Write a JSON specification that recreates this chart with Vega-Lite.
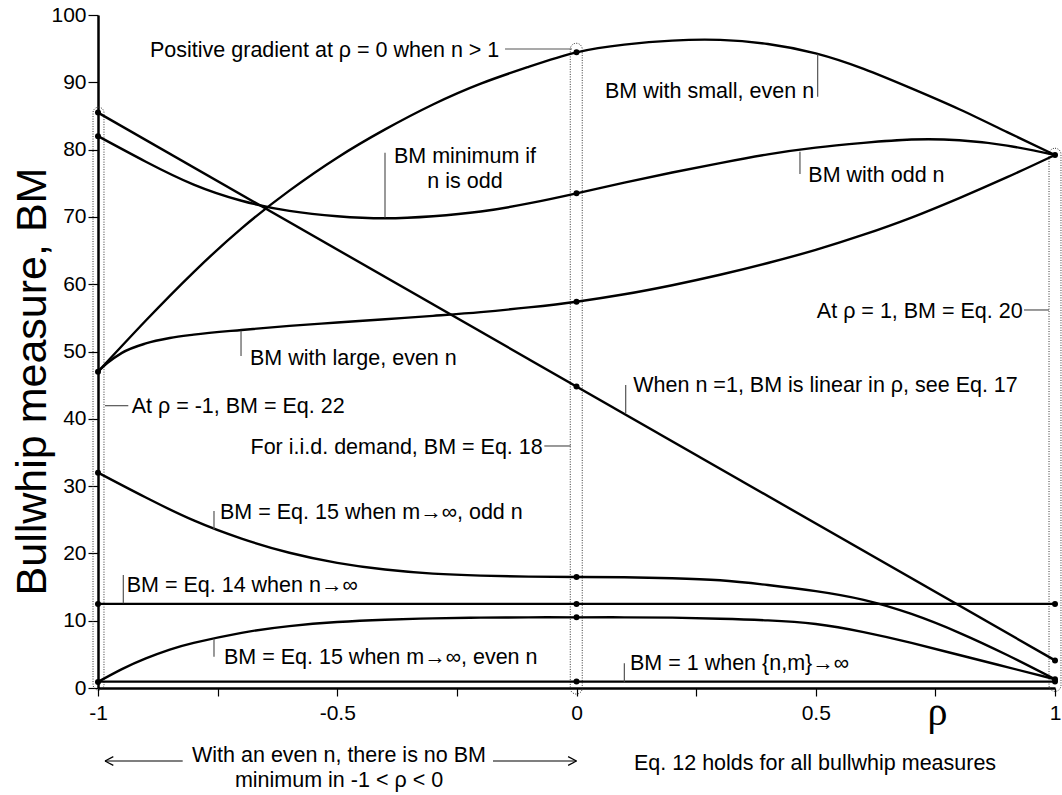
{
  "$schema": "https://vega.github.io/schema/vega-lite/v6.json",
  "width": 957,
  "height": 673,
  "autosize": {"type": "none"},
  "padding": {"left": 98, "top": 15, "right": 7, "bottom": 107},
  "background": "white",
  "config": {"view": {"stroke": null}, "font": "Liberation Sans"},
  "datasets": {
    "curves": [
      {"s": "n1", "x": -1, "y": 85.5}, {"s": "n1", "x": 1, "y": 4.1},
      {"s": "odd", "x": -1, "y": 82.0}, {"s": "odd", "x": -0.9, "y": 78.2}, {"s": "odd", "x": -0.8, "y": 74.8}, {"s": "odd", "x": -0.7, "y": 72.4}, {"s": "odd", "x": -0.6, "y": 70.9}, {"s": "odd", "x": -0.5, "y": 70.1}, {"s": "odd", "x": -0.4, "y": 69.8}, {"s": "odd", "x": -0.3, "y": 70.1}, {"s": "odd", "x": -0.2, "y": 70.8}, {"s": "odd", "x": -0.1, "y": 72.0}, {"s": "odd", "x": 0, "y": 73.5}, {"s": "odd", "x": 0.1, "y": 75.1}, {"s": "odd", "x": 0.2, "y": 76.6}, {"s": "odd", "x": 0.3, "y": 78.0}, {"s": "odd", "x": 0.4, "y": 79.3}, {"s": "odd", "x": 0.5, "y": 80.3}, {"s": "odd", "x": 0.6, "y": 81.0}, {"s": "odd", "x": 0.7, "y": 81.5}, {"s": "odd", "x": 0.8, "y": 81.4}, {"s": "odd", "x": 0.9, "y": 80.6}, {"s": "odd", "x": 1, "y": 79.2},
      {"s": "smalleven", "x": -1, "y": 47.0}, {"s": "smalleven", "x": -0.9, "y": 54.6}, {"s": "smalleven", "x": -0.8, "y": 61.8}, {"s": "smalleven", "x": -0.7, "y": 68.3}, {"s": "smalleven", "x": -0.6, "y": 73.9}, {"s": "smalleven", "x": -0.5, "y": 78.8}, {"s": "smalleven", "x": -0.4, "y": 83.0}, {"s": "smalleven", "x": -0.3, "y": 86.7}, {"s": "smalleven", "x": -0.2, "y": 89.8}, {"s": "smalleven", "x": -0.1, "y": 92.3}, {"s": "smalleven", "x": 0, "y": 94.45}, {"s": "smalleven", "x": 0.1, "y": 95.6}, {"s": "smalleven", "x": 0.2, "y": 96.2}, {"s": "smalleven", "x": 0.3, "y": 96.3}, {"s": "smalleven", "x": 0.4, "y": 95.7}, {"s": "smalleven", "x": 0.5, "y": 94.3}, {"s": "smalleven", "x": 0.6, "y": 92.0}, {"s": "smalleven", "x": 0.7, "y": 89.1}, {"s": "smalleven", "x": 0.8, "y": 86.0}, {"s": "smalleven", "x": 0.9, "y": 82.6}, {"s": "smalleven", "x": 1, "y": 79.2},
      {"s": "largeeven", "x": -1, "y": 47.0}, {"s": "largeeven", "x": -0.98, "y": 48.3}, {"s": "largeeven", "x": -0.95, "y": 49.8}, {"s": "largeeven", "x": -0.9, "y": 51.2}, {"s": "largeeven", "x": -0.85, "y": 52.0}, {"s": "largeeven", "x": -0.8, "y": 52.5}, {"s": "largeeven", "x": -0.7, "y": 53.2}, {"s": "largeeven", "x": -0.6, "y": 53.8}, {"s": "largeeven", "x": -0.5, "y": 54.3}, {"s": "largeeven", "x": -0.4, "y": 54.8}, {"s": "largeeven", "x": -0.3, "y": 55.3}, {"s": "largeeven", "x": -0.2, "y": 55.85}, {"s": "largeeven", "x": -0.1, "y": 56.55}, {"s": "largeeven", "x": 0, "y": 57.4}, {"s": "largeeven", "x": 0.1, "y": 58.5}, {"s": "largeeven", "x": 0.2, "y": 59.85}, {"s": "largeeven", "x": 0.3, "y": 61.4}, {"s": "largeeven", "x": 0.4, "y": 63.15}, {"s": "largeeven", "x": 0.5, "y": 65.1}, {"s": "largeeven", "x": 0.6, "y": 67.35}, {"s": "largeeven", "x": 0.7, "y": 69.9}, {"s": "largeeven", "x": 0.8, "y": 72.8}, {"s": "largeeven", "x": 0.9, "y": 75.9}, {"s": "largeeven", "x": 1, "y": 79.2},
      {"s": "eq15odd", "x": -1, "y": 32.0}, {"s": "eq15odd", "x": -0.9, "y": 28.3}, {"s": "eq15odd", "x": -0.8, "y": 24.9}, {"s": "eq15odd", "x": -0.7, "y": 22.2}, {"s": "eq15odd", "x": -0.6, "y": 20.1}, {"s": "eq15odd", "x": -0.5, "y": 18.6}, {"s": "eq15odd", "x": -0.4, "y": 17.6}, {"s": "eq15odd", "x": -0.3, "y": 17.0}, {"s": "eq15odd", "x": -0.2, "y": 16.7}, {"s": "eq15odd", "x": -0.1, "y": 16.55}, {"s": "eq15odd", "x": 0, "y": 16.5}, {"s": "eq15odd", "x": 0.1, "y": 16.45}, {"s": "eq15odd", "x": 0.2, "y": 16.3}, {"s": "eq15odd", "x": 0.3, "y": 16.0}, {"s": "eq15odd", "x": 0.4, "y": 15.3}, {"s": "eq15odd", "x": 0.5, "y": 14.4}, {"s": "eq15odd", "x": 0.6, "y": 13.1}, {"s": "eq15odd", "x": 0.7, "y": 11.0}, {"s": "eq15odd", "x": 0.8, "y": 8.2}, {"s": "eq15odd", "x": 0.9, "y": 4.9}, {"s": "eq15odd", "x": 1, "y": 1.3},
      {"s": "eq15even", "x": -1, "y": 0.9}, {"s": "eq15even", "x": -0.95, "y": 2.8}, {"s": "eq15even", "x": -0.9, "y": 4.4}, {"s": "eq15even", "x": -0.85, "y": 5.7}, {"s": "eq15even", "x": -0.8, "y": 6.7}, {"s": "eq15even", "x": -0.7, "y": 8.2}, {"s": "eq15even", "x": -0.6, "y": 9.2}, {"s": "eq15even", "x": -0.5, "y": 9.8}, {"s": "eq15even", "x": -0.4, "y": 10.15}, {"s": "eq15even", "x": -0.3, "y": 10.35}, {"s": "eq15even", "x": -0.2, "y": 10.45}, {"s": "eq15even", "x": -0.1, "y": 10.5}, {"s": "eq15even", "x": 0, "y": 10.5}, {"s": "eq15even", "x": 0.1, "y": 10.5}, {"s": "eq15even", "x": 0.2, "y": 10.45}, {"s": "eq15even", "x": 0.3, "y": 10.3}, {"s": "eq15even", "x": 0.4, "y": 10.05}, {"s": "eq15even", "x": 0.5, "y": 9.5}, {"s": "eq15even", "x": 0.6, "y": 8.3}, {"s": "eq15even", "x": 0.7, "y": 6.7}, {"s": "eq15even", "x": 0.8, "y": 4.9}, {"s": "eq15even", "x": 0.9, "y": 3.1}, {"s": "eq15even", "x": 1, "y": 1.3},
      {"s": "eq14", "x": -1, "y": 12.5}, {"s": "eq14", "x": 1, "y": 12.5},
      {"s": "bm1", "x": -1, "y": 0.95}, {"s": "bm1", "x": 1, "y": 0.95}
    ],
    "dots": [
      {"x": -1, "y": 85.5}, {"x": -1, "y": 82.0}, {"x": -1, "y": 47.0}, {"x": -1, "y": 32.0}, {"x": -1, "y": 12.5}, {"x": -1, "y": 0.9},
      {"x": 0, "y": 94.45}, {"x": 0, "y": 73.5}, {"x": 0, "y": 57.4}, {"x": 0, "y": 44.8}, {"x": 0, "y": 16.5}, {"x": 0, "y": 12.5}, {"x": 0, "y": 10.5}, {"x": 0, "y": 0.95},
      {"x": 1, "y": 79.2}, {"x": 1, "y": 12.5}, {"x": 1, "y": 4.1}, {"x": 1, "y": 1.3}, {"x": 1, "y": 0.95}
    ],
    "boxes": [
      {"x": -1.0104, "x2": -0.9875, "y": -0.3, "y2": 86.3},
      {"x": -0.013, "x2": 0.012, "y": -0.9, "y2": 95.8},
      {"x": 0.9875, "x2": 1.0125, "y": -0.5, "y2": 80.2}
    ],
    "leaders": [
      {"x": -0.1494, "x2": -0.0094, "y": 94.95, "y2": 94.95},
      {"x": 0.504, "x2": 0.504, "y": 94.15, "y2": 87.86},
      {"x": -0.4002, "x2": -0.4002, "y": 79.54, "y2": 69.9},
      {"x": 0.467, "x2": 0.467, "y": 79.69, "y2": 76.37},
      {"x": 0.9352, "x2": 0.9875, "y": 56.17, "y2": 56.17},
      {"x": -0.7011, "x2": -0.7011, "y": 53.1, "y2": 49.33},
      {"x": -0.9854, "x2": -0.9367, "y": 41.95, "y2": 41.95},
      {"x": 0.1028, "x2": 0.1028, "y": 45.02, "y2": 40.82},
      {"x": -0.0673, "x2": -0.0121, "y": 35.96, "y2": 35.96},
      {"x": -0.7576, "x2": -0.7576, "y": 26.3, "y2": 23.6},
      {"x": -0.9471, "x2": -0.9471, "y": 16.79, "y2": 12.58},
      {"x": -0.7576, "x2": -0.7576, "y": 7.3, "y2": 4.66},
      {"x": 0.1, "x2": 0.1, "y": 3.67, "y2": 0.94}
    ],
    "arrows": [
      {"x": -0.9854, "x2": -0.823, "y": -10.85, "y2": -10.85},
      {"x": -0.9854, "x2": -0.968, "y": -10.85, "y2": -10.2},
      {"x": -0.9854, "x2": -0.968, "y": -10.85, "y2": -11.5},
      {"x": -0.1745, "x2": 0.0, "y": -10.85, "y2": -10.85},
      {"x": 0.0, "x2": -0.0175, "y": -10.85, "y2": -10.2},
      {"x": 0.0, "x2": -0.0175, "y": -10.85, "y2": -11.5}
    ],
    "labelsLeft": [
      {"x": -0.8913, "y": 93.76, "t": "Positive gradient at ρ = 0 when n > 1"},
      {"x": 0.0596, "y": 87.7, "t": "BM with small, even n"},
      {"x": 0.4844, "y": 75.23, "t": "BM with odd n"},
      {"x": -0.6823, "y": 47.99, "t": "BM with large, even n"},
      {"x": -0.9296, "y": 40.82, "t": "At ρ = -1, BM = Eq. 22"},
      {"x": 0.1187, "y": 44.03, "t": "When n =1, BM is linear in ρ, see Eq. 17"},
      {"x": -0.745, "y": 25.11, "t": "BM = Eq. 15 when m→∞, odd n"},
      {"x": -0.94, "y": 14.31, "t": "BM = Eq. 14 when n→∞"},
      {"x": -0.7367, "y": 3.57, "t": "BM = Eq. 15 when m→∞, even n"},
      {"x": 0.1118, "y": 2.67, "t": "BM = 1 when {n,m}→∞"},
      {"x": 0.1202, "y": -12.18, "t": "Eq. 12 holds for all bullwhip measures"}
    ],
    "labelsRight": [
      {"x": 0.9325, "y": 54.93, "t": "At ρ = 1, BM = Eq. 20"},
      {"x": -0.0706, "y": 34.72, "t": "For i.i.d. demand, BM = Eq. 18"}
    ],
    "labelsCenter": [
      {"x": -0.233, "y": 77.96, "t": "BM minimum if"},
      {"x": -0.233, "y": 74.34, "t": "n is odd"},
      {"x": -0.4963, "y": -10.95, "t": "With an even n, there is no BM"},
      {"x": -0.4963, "y": -14.67, "t": "minimum in -1 < ρ < 0"}
    ]
  },
  "encoding": {
    "x": {
      "field": "x", "type": "quantitative",
      "scale": {"domain": [-1, 1], "nice": false, "zero": false},
      "axis": {
        "values": [-1, -0.75, -0.5, -0.25, 0, 0.25, 0.5, 0.75, 1],
        "labelExpr": "abs(datum.value * 2 - round(datum.value * 2)) < 0.001 ? '' + datum.value : ''",
        "labelFlush": false, "labelOverlap": false, "labelBound": false,
        "labelFont": "Liberation Sans", "labelFontSize": 21, "labelColor": "black", "labelPadding": 6,
        "domainColor": "black", "domainWidth": 2.5,
        "tickColor": "black", "tickSize": 8, "tickWidth": 1.2,
        "grid": false,
        "title": "ρ", "titleFont": "Liberation Serif", "titleFontSize": 40, "titleFontWeight": "normal", "titleColor": "black",
        "titleX": 839, "titleY": 36, "titleAlign": "center", "titleBaseline": "alphabetic"
      }
    },
    "y": {
      "field": "y", "type": "quantitative",
      "scale": {"domain": [0, 100], "nice": false},
      "axis": {
        "values": [0, 10, 20, 30, 40, 50, 60, 70, 80, 90, 100],
        "labelFont": "Liberation Sans", "labelFontSize": 21, "labelColor": "black", "labelPadding": 2,
        "labelFlush": false, "labelOverlap": false, "labelBound": false,
        "domainColor": "black", "domainWidth": 2.5,
        "tickColor": "black", "tickSize": 10, "tickWidth": 1.2,
        "grid": false,
        "title": "Bullwhip measure, BM", "titleFont": "Liberation Sans", "titleFontSize": 43, "titleFontWeight": "normal", "titleColor": "black",
        "titleAngle": -90, "titleX": -53, "titleY": 366, "titleAlign": "center", "titleBaseline": "alphabetic"
      }
    }
  },
  "layer": [
    {
      "data": {"name": "boxes"},
      "mark": {"type": "rect", "fill": null, "fillOpacity": 0, "stroke": "#333333", "strokeWidth": 1, "strokeDash": [1, 1.5], "cornerRadius": 6},
      "encoding": {"x2": {"field": "x2"}, "y2": {"field": "y2"}}
    },
    {
      "data": {"name": "curves"},
      "transform": [{"filter": "datum.s != 'largeeven'"}],
      "mark": {"type": "line", "color": "black", "strokeWidth": 2.4, "interpolate": "natural"},
      "encoding": {"detail": {"field": "s"}}
    },
    {
      "data": {"name": "curves"},
      "transform": [{"filter": "datum.s == 'largeeven'"}],
      "mark": {"type": "line", "color": "black", "strokeWidth": 2.4, "interpolate": "monotone"},
      "encoding": {"detail": {"field": "s"}}
    },
    {
      "data": {"name": "dots"},
      "mark": {"type": "circle", "color": "black", "opacity": 1, "size": 36}
    },
    {
      "data": {"name": "leaders"},
      "mark": {"type": "rule", "color": "#555555", "strokeWidth": 1.2},
      "encoding": {"x2": {"field": "x2"}, "y2": {"field": "y2"}}
    },
    {
      "data": {"name": "arrows"},
      "mark": {"type": "rule", "color": "black", "strokeWidth": 1.2},
      "encoding": {"x2": {"field": "x2"}, "y2": {"field": "y2"}}
    },
    {
      "data": {"name": "labelsLeft"},
      "mark": {"type": "text", "align": "left", "baseline": "alphabetic", "font": "Liberation Sans", "fontSize": 21.5, "color": "black"},
      "encoding": {"text": {"field": "t"}}
    },
    {
      "data": {"name": "labelsRight"},
      "mark": {"type": "text", "align": "right", "baseline": "alphabetic", "font": "Liberation Sans", "fontSize": 21.5, "color": "black"},
      "encoding": {"text": {"field": "t"}}
    },
    {
      "data": {"name": "labelsCenter"},
      "mark": {"type": "text", "align": "center", "baseline": "alphabetic", "font": "Liberation Sans", "fontSize": 21.5, "color": "black"},
      "encoding": {"text": {"field": "t"}}
    }
  ]
}
